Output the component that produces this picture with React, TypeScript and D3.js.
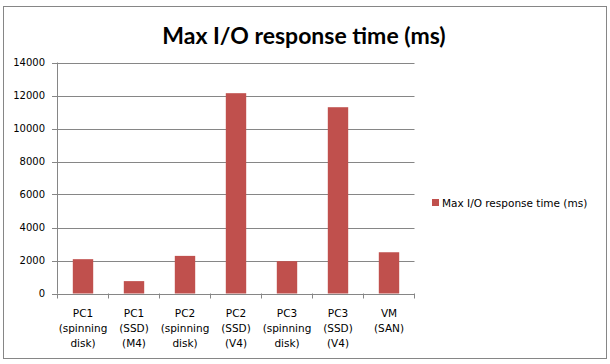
import { useEffect, useRef } from "react";
import * as d3 from "d3";

const categories = [
  ["PC1", "(spinning", "disk)"],
  ["PC1", "(SSD)", "(M4)"],
  ["PC2", "(spinning", "disk)"],
  ["PC2", "(SSD)", "(V4)"],
  ["PC3", "(spinning", "disk)"],
  ["PC3", "(SSD)", "(V4)"],
  ["VM", "(SAN)"],
];
const values = [2080, 750, 2280, 12140, 1960, 11290, 2500];
const yTicks = [0, 2000, 4000, 6000, 8000, 10000, 12000, 14000];
const seriesName = "Max I/O response time (ms)";

const W = 610;
const H = 364;

const App = () => {
  const ref = useRef<SVGSVGElement | null>(null);

  useEffect(() => {
    if (!ref.current) return;
    const svg = d3.select(ref.current);
    svg.selectAll("*").remove();

    const font = "'DejaVu Sans', Verdana, sans-serif";
    const grey = "#868686";

    // chart border
    svg
      .append("rect")
      .attr("x", 3.5)
      .attr("y", 6.5)
      .attr("width", 603)
      .attr("height", 352)
      .attr("fill", "#fff")
      .attr("stroke", grey);

    svg
      .append("text")
      .attr("x", 304)
      .attr("y", 44)
      .attr("text-anchor", "middle")
      .attr("font-family", "Lato, 'Open Sans', sans-serif")
      .attr("font-weight", "bold")
      .attr("font-size", 23)
      .attr("fill", "#000")
      .text("Max I/O response time (ms)");

    const x = d3
      .scaleBand()
      .domain(categories.map((_, i) => String(i)))
      .range([57.5, 414.5])
      .paddingInner(0.6)
      .paddingOuter(0.3);
    const y = d3.scaleLinear().domain([0, 14000]).range([293.5, 62.5]);

    // gridlines
    svg
      .append("g")
      .selectAll("line")
      .data(yTicks)
      .join("line")
      .attr("x1", 52)
      .attr("x2", 414.5)
      .attr("y1", (d) => Math.round(y(d)) + 0.5)
      .attr("y2", (d) => Math.round(y(d)) + 0.5)
      .attr("stroke", grey);

    svg
      .append("g")
      .selectAll("text")
      .data(yTicks)
      .join("text")
      .attr("x", 45)
      .attr("y", (d) => y(d) + 3.5)
      .attr("text-anchor", "end")
      .attr("font-family", font)
      .attr("font-size", 10)
      .attr("fill", "#000")
      .text((d) => String(d));

    // bars
    svg
      .append("g")
      .selectAll("rect")
      .data(values)
      .join("rect")
      .attr("x", (_, i) => x(String(i))!)
      .attr("width", x.bandwidth())
      .attr("y", (d) => y(d))
      .attr("height", (d) => y(0) - y(d))
      .attr("fill", "#C0504D");

    // axes lines
    svg
      .append("line")
      .attr("x1", 57.5)
      .attr("x2", 57.5)
      .attr("y1", y(14000))
      .attr("y2", y(0))
      .attr("stroke", grey);

    const step = x.step();
    const start = 57.5;
    const bounds = d3.range(categories.length + 1).map((i) => start + i * (357 / categories.length));
    svg
      .append("g")
      .selectAll("line")
      .data(bounds)
      .join("line")
      .attr("x1", (d) => Math.round(d - 0.5) + 0.5)
      .attr("x2", (d) => Math.round(d - 0.5) + 0.5)
      .attr("y1", y(0))
      .attr("y2", y(0) + 5)
      .attr("stroke", grey);
    void step;

    // category labels
    const cat = svg
      .append("g")
      .selectAll("text")
      .data(categories)
      .join("text")
      .attr("text-anchor", "middle")
      .attr("font-family", font)
      .attr("font-size", 10.5)
      .attr("fill", "#000");
    cat
      .selectAll("tspan")
      .data((d, i) => d.map((t) => ({ t, i })))
      .join("tspan")
      .attr("x", (d) => x(String(d.i))! + x.bandwidth() / 2)
      .attr("y", (_, j) => 317 + j * 15)
      .text((d) => d.t);

    // legend
    svg
      .append("rect")
      .attr("x", 432)
      .attr("y", 199)
      .attr("width", 7)
      .attr("height", 7)
      .attr("fill", "#C0504D");
    svg
      .append("text")
      .attr("x", 442)
      .attr("y", 207)
      .attr("font-family", font)
      .attr("font-size", 10.5)
      .attr("fill", "#000")
      .text(seriesName);
  }, []);

  return (
    <svg
      ref={ref}
      width={W}
      height={H}
      style={{ position: "absolute", left: 0, top: 0, display: "block" }}
    />
  );
};

export default App;
